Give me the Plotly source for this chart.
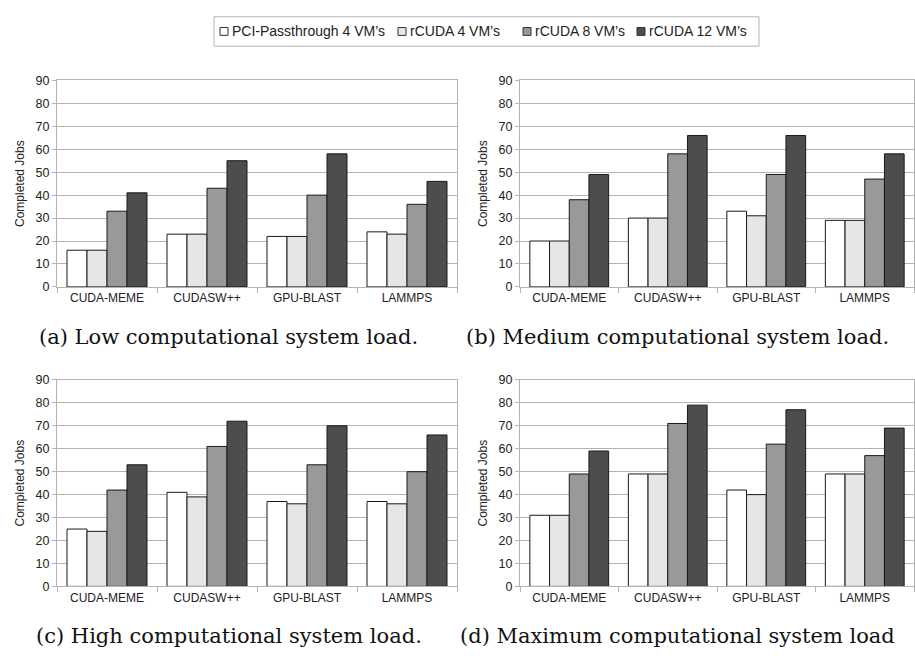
import plotly.graph_objects as go

categories = ["CUDA-MEME", "CUDASW++", "GPU-BLAST", "LAMMPS"]
series_names = ["PCI-Passthrough 4 VM’s", "rCUDA 4 VM’s", "rCUDA 8 VM’s", "rCUDA 12 VM’s"]
series_colors = ["#ffffff", "#e6e6e6", "#999999", "#4d4d4d"]

low_load = [
    [16, 23, 22, 24],
    [16, 23, 22, 23],
    [33, 43, 40, 36],
    [41, 55, 58, 46],
]
medium_load = [
    [20, 30, 33, 29],
    [20, 30, 31, 29],
    [38, 58, 49, 47],
    [49, 66, 66, 58],
]
high_load = [
    [25, 41, 37, 37],
    [24, 39, 36, 36],
    [42, 61, 53, 50],
    [53, 72, 70, 66],
]
max_load = [
    [31, 49, 42, 49],
    [31, 49, 40, 49],
    [49, 71, 62, 57],
    [59, 79, 77, 69],
]
captions = [
    "(a) Low computational system load.",
    "(b) Medium computational system load.",
    "(c) High computational system load.",
    "(d) Maximum computational system load",
]
y_ticks = [0, 10, 20, 30, 40, 50, 60, 70, 80, 90]

W, H = 915, 658
panels = [low_load, medium_load, high_load, max_load]
# pixel boxes (left, right, top, bottom)
boxes = [(57, 457, 75, 286), (520, 914, 75, 286), (57, 457, 381, 592), (520, 914, 381, 592)]
caption_pos = [(229, 337), (677, 337), (229, 643), (677, 643)]
legend_box = (214, 759, 10, 40)
legend_x = [220, 398, 523, 637]
legend_y = 25

SANS = "Liberation Sans, Arial, sans-serif"
fig = go.Figure()
for p, data in enumerate(panels):
    ax = "" if p == 0 else str(p + 1)
    for s in range(4):
        fig.add_trace(go.Bar(
            x=categories, y=data[s], name=series_names[s],
            marker=dict(color=series_colors[s], line=dict(color="#1a1a1a", width=1)),
            xaxis="x" + ax, yaxis="y" + ax, showlegend=False,
        ))
    l, r, t, b = boxes[p]
    fig.layout["xaxis" + ax] = dict(
        domain=[l / W, r / W], anchor="y" + ax, type="category",
        range=[-0.5, 3.5], showline=True, linecolor="#b3b3b3", mirror=True,
        ticks="outside", tickson="boundaries", ticklen=5, tickcolor="#b3b3b3",
        tickfont=dict(family=SANS, size=12, color="#222"),
        showgrid=False,
    )
    fig.layout["yaxis" + ax] = dict(
        domain=[1 - b / H, 1 - t / H], anchor="x" + ax, range=[0, 90],
        tickvals=y_ticks, showline=True, linecolor="#b3b3b3", mirror=True,
        ticks="outside", ticklen=4, tickcolor="#b3b3b3",
        showgrid=True, gridcolor="#b3b3b3", gridwidth=1, zeroline=False,
        tickfont=dict(family=SANS, size=12.5, color="#222"),
        title=dict(text="Completed Jobs", font=dict(family=SANS, size=12, color="#222"), standoff=8),
    )
    cx, cy = caption_pos[p]
    fig.add_annotation(
        text=captions[p], x=cx / W, y=1 - cy / H, xref="paper", yref="paper",
        showarrow=False, xanchor="center", yanchor="middle",
        font=dict(family="DejaVu Serif, serif", size=21, color="#111"),
    )

# legend (drawn as layout decoration)
lx0, lx1, ly0, ly1 = legend_box
fig.add_shape(type="rect", xref="paper", yref="paper",
              x0=lx0 / W, x1=lx1 / W, y0=1 - ly1 / H, y1=1 - ly0 / H,
              line=dict(color="#b3b3b3", width=1), fillcolor="white")
for s in range(4):
    x = legend_x[s]
    fig.add_shape(type="rect", xref="paper", yref="paper",
                  x0=x / W, x1=(x + 8) / W, y0=1 - (legend_y + 4) / H, y1=1 - (legend_y - 4) / H,
                  line=dict(color="#333333", width=1), fillcolor=series_colors[s])
    fig.add_annotation(text=series_names[s], x=(x + 10) / W, y=1 - legend_y / H,
                       xref="paper", yref="paper", showarrow=False,
                       xanchor="left", yanchor="middle",
                       font=dict(family=SANS, size=14, color="#222"))

fig.update_layout(
    width=W, height=H, margin=dict(l=0, r=0, t=0, b=0),
    paper_bgcolor="white", plot_bgcolor="white",
    barmode="group", bargap=0.2, bargroupgap=0, showlegend=False,
)
fig.write_html("out.html")
